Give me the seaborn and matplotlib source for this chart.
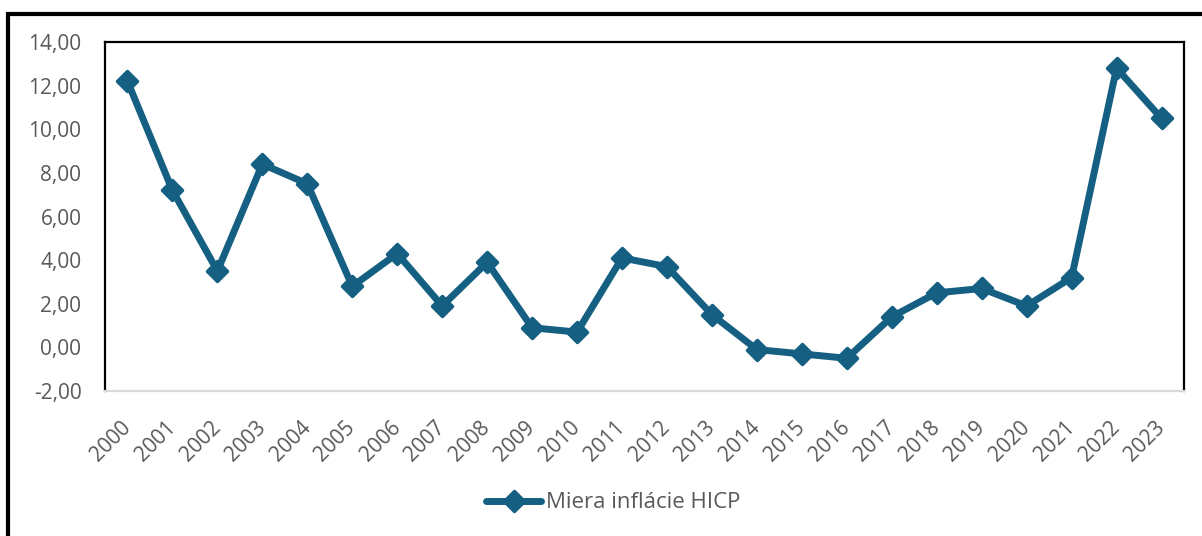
# Miera inflácie HICP 2000-2023

import pandas as pd
import matplotlib
matplotlib.use("Agg")
import matplotlib.pyplot as plt
import seaborn as sns
from matplotlib.markers import MarkerStyle
from matplotlib.patches import Rectangle
from matplotlib.ticker import FuncFormatter, MultipleLocator

# Data
years = ['2000', '2001', '2002', '2003', '2004', '2005', '2006', '2007',
         '2008', '2009', '2010', '2011', '2012', '2013', '2014', '2015',
         '2016', '2017', '2018', '2019', '2020', '2021', '2022', '2023']
hicp = [12.2, 7.2, 3.5, 8.4, 7.5, 2.8, 4.3, 1.9,
        3.9, 0.9, 0.7, 4.1, 3.7, 1.5, -0.1, -0.3,
        -0.5, 1.4, 2.5, 2.7, 1.9, 3.2, 12.8, 10.5]
series_name = 'Miera inflácie HICP'

df = pd.DataFrame({'Rok': years, 'Inflácia': hicp})

sns.set_style('white')
plt.rcParams['font.family'] = ['Open Sans', 'DejaVu Sans']

blue = '#156082'
grey_text = '#595959'

fig = plt.figure(figsize=(12.02, 5.36), dpi=100)
ax = fig.add_axes([105 / 1202, 1 - 391 / 536, (1184 - 105) / 1202, (391 - 42) / 536])

sns.lineplot(data=df, x='Rok', y='Inflácia', ax=ax, color=blue, linewidth=5,
             marker=MarkerStyle('D', joinstyle='round'), markersize=10.5,
             markeredgewidth=2.5, markeredgecolor=blue,
             solid_joinstyle='round', solid_capstyle='round',
             label=series_name, legend=False)

ax.set_xlim(-0.5, len(years) - 0.5)
ax.set_ylim(-2, 14)
ax.yaxis.set_major_locator(MultipleLocator(2))
ax.yaxis.set_major_formatter(FuncFormatter(lambda v, p: f'{v:.2f}'.replace('.', ',')))
ax.set_xlabel('')
ax.set_ylabel('')

ax.tick_params(axis='y', length=0, pad=17, labelsize=15, labelcolor=grey_text)
ax.tick_params(axis='x', length=0, pad=24, labelsize=15, labelcolor=grey_text)
for lab in ax.get_xticklabels():
    lab.set_rotation(45)
    lab.set_ha('right')
    lab.set_va('center')
    lab.set_rotation_mode('anchor')

for side in ['left', 'top', 'right']:
    ax.spines[side].set_color('black')
    ax.spines[side].set_linewidth(1.6)
ax.spines['bottom'].set_color('#d9d9d9')
ax.spines['bottom'].set_linewidth(1.6)

handles, labels = ax.get_legend_handles_labels()
fig.legend(handles, labels, loc='center', bbox_to_anchor=(613 / 1202, 1 - 503 / 536),
           frameon=False, fontsize=16, labelcolor=grey_text,
           handlelength=2.5, handletextpad=0.2)

# outer chart frame (partly cut off at the right and bottom)
fig.add_artist(Rectangle((8 / 1202, -0.5), 1.5, 1.5 - 13.5 / 536,
                         transform=fig.transFigure, fill=False,
                         edgecolor='black', linewidth=3, clip_on=False))

fig.savefig('out.png', dpi=100)
